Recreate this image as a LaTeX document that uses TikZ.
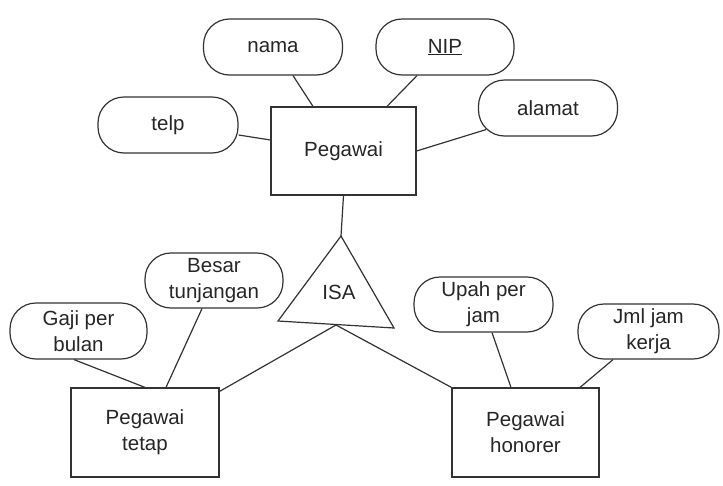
\documentclass[tikz,border=0pt]{standalone}
\usepackage{fontspec}
\setmainfont{Liberation Sans}
\begin{document}
\begin{tikzpicture}[x=1pt,y=-1pt,
  every node/.style={text=black!85, font=\fontsize{20.5}{26}\selectfont, align=center, inner sep=0pt},
  attr/.style={draw=black!80, line width=1.2pt, rounded corners=26pt, minimum height=56pt},
  ent/.style={draw=black!80, line width=1.2pt},
  link/.style={draw=black!80, line width=1.2pt}]
\useasboundingbox (0,0) rectangle (723,485);
% entities
\node[ent, minimum width=145pt, minimum height=88pt] (peg) at (343.5,151) {Pegawai};
\node[ent, minimum width=148pt, minimum height=89pt] (tetap) at (145,432.5) {Pegawai\\tetap};
\node[ent, minimum width=147pt, minimum height=89pt] (hon) at (525.5,432.5) {Pegawai\\honorer};
% attributes
\node[attr, minimum width=139pt] (nama) at (273,47) {nama};
\node[attr, minimum width=138pt] (nip) at (445,47) {\underline{NIP}};
\node[attr, minimum width=140pt] (telp) at (168,125) {telp};
\node[attr, minimum width=139pt] (alamat) at (548,108) {alamat};
\node[attr, minimum width=137pt] (gaji) at (78.5,331) {Gaji per\\bulan};
\node[attr, minimum width=138pt, minimum height=55pt] (besar) at (214,280.5) {Besar\\tunjangan};
\node[attr, minimum width=139pt, minimum height=55pt] (upah) at (483.5,304.5) {Upah per\\jam};
\node[attr, minimum width=141pt, minimum height=55pt] (jml) at (648.5,331.5) {Jml jam\\kerja};
% ISA triangle
\coordinate (isatop) at (341,236);
\coordinate (isabl) at (278,321);
\coordinate (isabr) at (394,328);
\coordinate (isabot) at (336,325);
\draw[link, line join=miter] (isatop) -- (isabl) -- (isabr) -- cycle;
\node (isa) at (339,292) {ISA};
% connectors
\draw[link] ([xshift=20pt]nama.south) -- ([xshift=-30.5pt]peg.north);
\draw[link] ([xshift=-28pt]nip.south) -- ([xshift=43.5pt]peg.north);
\draw[link] ([yshift=-10pt]telp.east) -- ([yshift=11pt]peg.west);
\draw[link] ([xshift=-62pt,yshift=7pt]alamat.south) -- (peg.east);
\draw[link] (peg.south) -- (isatop);
\draw[link] (isabot) -- ([yshift=-4pt]tetap.north east);
\draw[link] (isabot) -- (hon.north west);
\draw[link] ([xshift=-4.5pt]gaji.south) -- (tetap.north);
\draw[link] ([xshift=-12pt]besar.south) -- ([xshift=21pt]tetap.north);
\draw[link] ([xshift=8.5pt]upah.south) -- ([xshift=-14.5pt]hon.north);
\draw[link] ([xshift=-35.5pt]jml.south) -- ([xshift=54.5pt]hon.north);
\end{tikzpicture}
\end{document}
